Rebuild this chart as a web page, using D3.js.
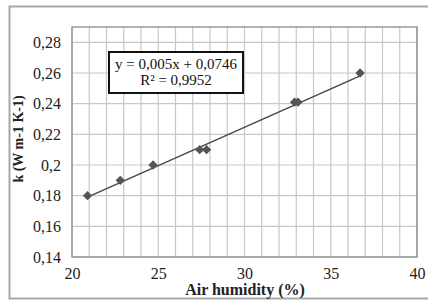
<!DOCTYPE html>
<html>
<head>
<meta charset="utf-8">
<script src="https://cdn.jsdelivr.net/npm/d3@7"></script>
<style>
  body { margin: 0; background: #fff; }
  svg { display: block; }
</style>
</head>
<body>
<svg width="428" height="305"></svg>
<script>
// data
var humidity = [20.9, 22.8, 24.7, 27.4, 27.8, 32.9, 33.1, 36.7];
var conductivity = [0.18, 0.19, 0.20, 0.21, 0.21, 0.241, 0.241, 0.26];
var xTicks = [20, 25, 30, 35, 40];
var yTicks = [0.14, 0.16, 0.18, 0.20, 0.22, 0.24, 0.26, 0.28];
var slope = 0.005, intercept = 0.0746;
var eqLines = ["y = 0,005x + 0,0746", "R\u00b2 = 0,9952"];

var FONT = "Liberation Serif";
var svg = d3.select("svg");
var pLeft = 72, pTop = 27, pRight = 417, pBottom = 257;

// outer chart frame
svg.append("rect")
  .attr("x", 9.5).attr("y", 6.5)
  .attr("width", 440).attr("height", 292)
  .attr("fill", "#fff")
  .attr("stroke", "#a8a8a8")
  .attr("stroke-width", 2);

var x = d3.scaleLinear().domain([20, 40]).range([pLeft, pRight]);
var y = d3.scaleLinear().domain([0.14, 0.29]).range([pBottom, pTop]);

var comma = function(d) {
  var s = d3.format(".2f")(d).replace(/0$/, "");
  return s.replace(".", ",");
};

// gridlines
var g = svg.append("g");
g.selectAll(".vg")
  .data(d3.range(20, 41))
  .enter().append("line")
  .attr("x1", function(d) { return x(d); })
  .attr("x2", function(d) { return x(d); })
  .attr("y1", pTop).attr("y2", pBottom)
  .attr("stroke", "#c8c8c8").attr("stroke-width", 1.2);
g.selectAll(".hg")
  .data(yTicks)
  .enter().append("line")
  .attr("x1", pLeft).attr("x2", pRight)
  .attr("y1", function(d) { return y(d); })
  .attr("y2", function(d) { return y(d); })
  .attr("stroke", "#c8c8c8").attr("stroke-width", 1.2);

// plot border
svg.append("rect")
  .attr("x", pLeft).attr("y", pTop)
  .attr("width", pRight - pLeft).attr("height", pBottom - pTop)
  .attr("fill", "none")
  .attr("stroke", "#8a8a8a")
  .attr("stroke-width", 1.3);

// axes (labels only)
var xAxis = svg.append("g")
  .attr("transform", "translate(0," + pBottom + ")")
  .call(d3.axisBottom(x).tickValues(xTicks).tickSize(0).tickPadding(11));
var yAxis = svg.append("g")
  .attr("transform", "translate(" + pLeft + ",0)")
  .call(d3.axisLeft(y).tickValues(yTicks).tickFormat(comma).tickSize(0).tickPadding(11));
[xAxis, yAxis].forEach(function(a) {
  a.attr("font-family", FONT).attr("font-size", 16);
  a.select(".domain").remove();
  a.selectAll("text")
    .attr("font-family", FONT)
    .attr("font-size", 16)
    .attr("fill", "#222");
});

// trend line
var xs = d3.extent(humidity);
svg.append("path")
  .datum(xs)
  .attr("fill", "none")
  .attr("stroke", "#444")
  .attr("stroke-width", 1.3)
  .attr("d", d3.line()
    .x(function(d) { return x(d); })
    .y(function(d) { return y(slope * d + intercept); }));

// markers
var pts = humidity.map(function(h, i) { return { h: h, k: conductivity[i] }; });
svg.selectAll(".pt")
  .data(pts)
  .enter().append("path")
  .attr("transform", function(d) { return "translate(" + x(d.h) + "," + y(d.k) + ")"; })
  .attr("d", d3.symbol().type(d3.symbolDiamond2).size(56))
  .attr("fill", "#555");

// equation box
svg.append("rect")
  .attr("x", 109).attr("y", 52)
  .attr("width", 134).attr("height", 41)
  .attr("fill", "#fff")
  .attr("stroke", "#111")
  .attr("stroke-width", 2);
svg.selectAll(".eq")
  .data(eqLines)
  .enter().append("text")
  .attr("x", 176)
  .attr("y", function(d, i) { return 69 + i * 16; })
  .attr("text-anchor", "middle")
  .attr("font-family", FONT)
  .attr("font-size", 15)
  .attr("fill", "#111")
  .text(function(d) { return d; });

// axis titles
svg.append("text")
  .attr("x", 245).attr("y", 295)
  .attr("text-anchor", "middle")
  .attr("font-family", FONT)
  .attr("font-size", 16)
  .attr("font-weight", "bold")
  .attr("fill", "#222")
  .text("Air humidity (%)");
svg.append("text")
  .attr("transform", "translate(23,139) rotate(-90)")
  .attr("text-anchor", "middle")
  .attr("font-family", FONT)
  .attr("font-size", 14)
  .attr("font-weight", "bold")
  .attr("fill", "#222")
  .text("k (W m-1 K-1)");
</script>
</body>
</html>
